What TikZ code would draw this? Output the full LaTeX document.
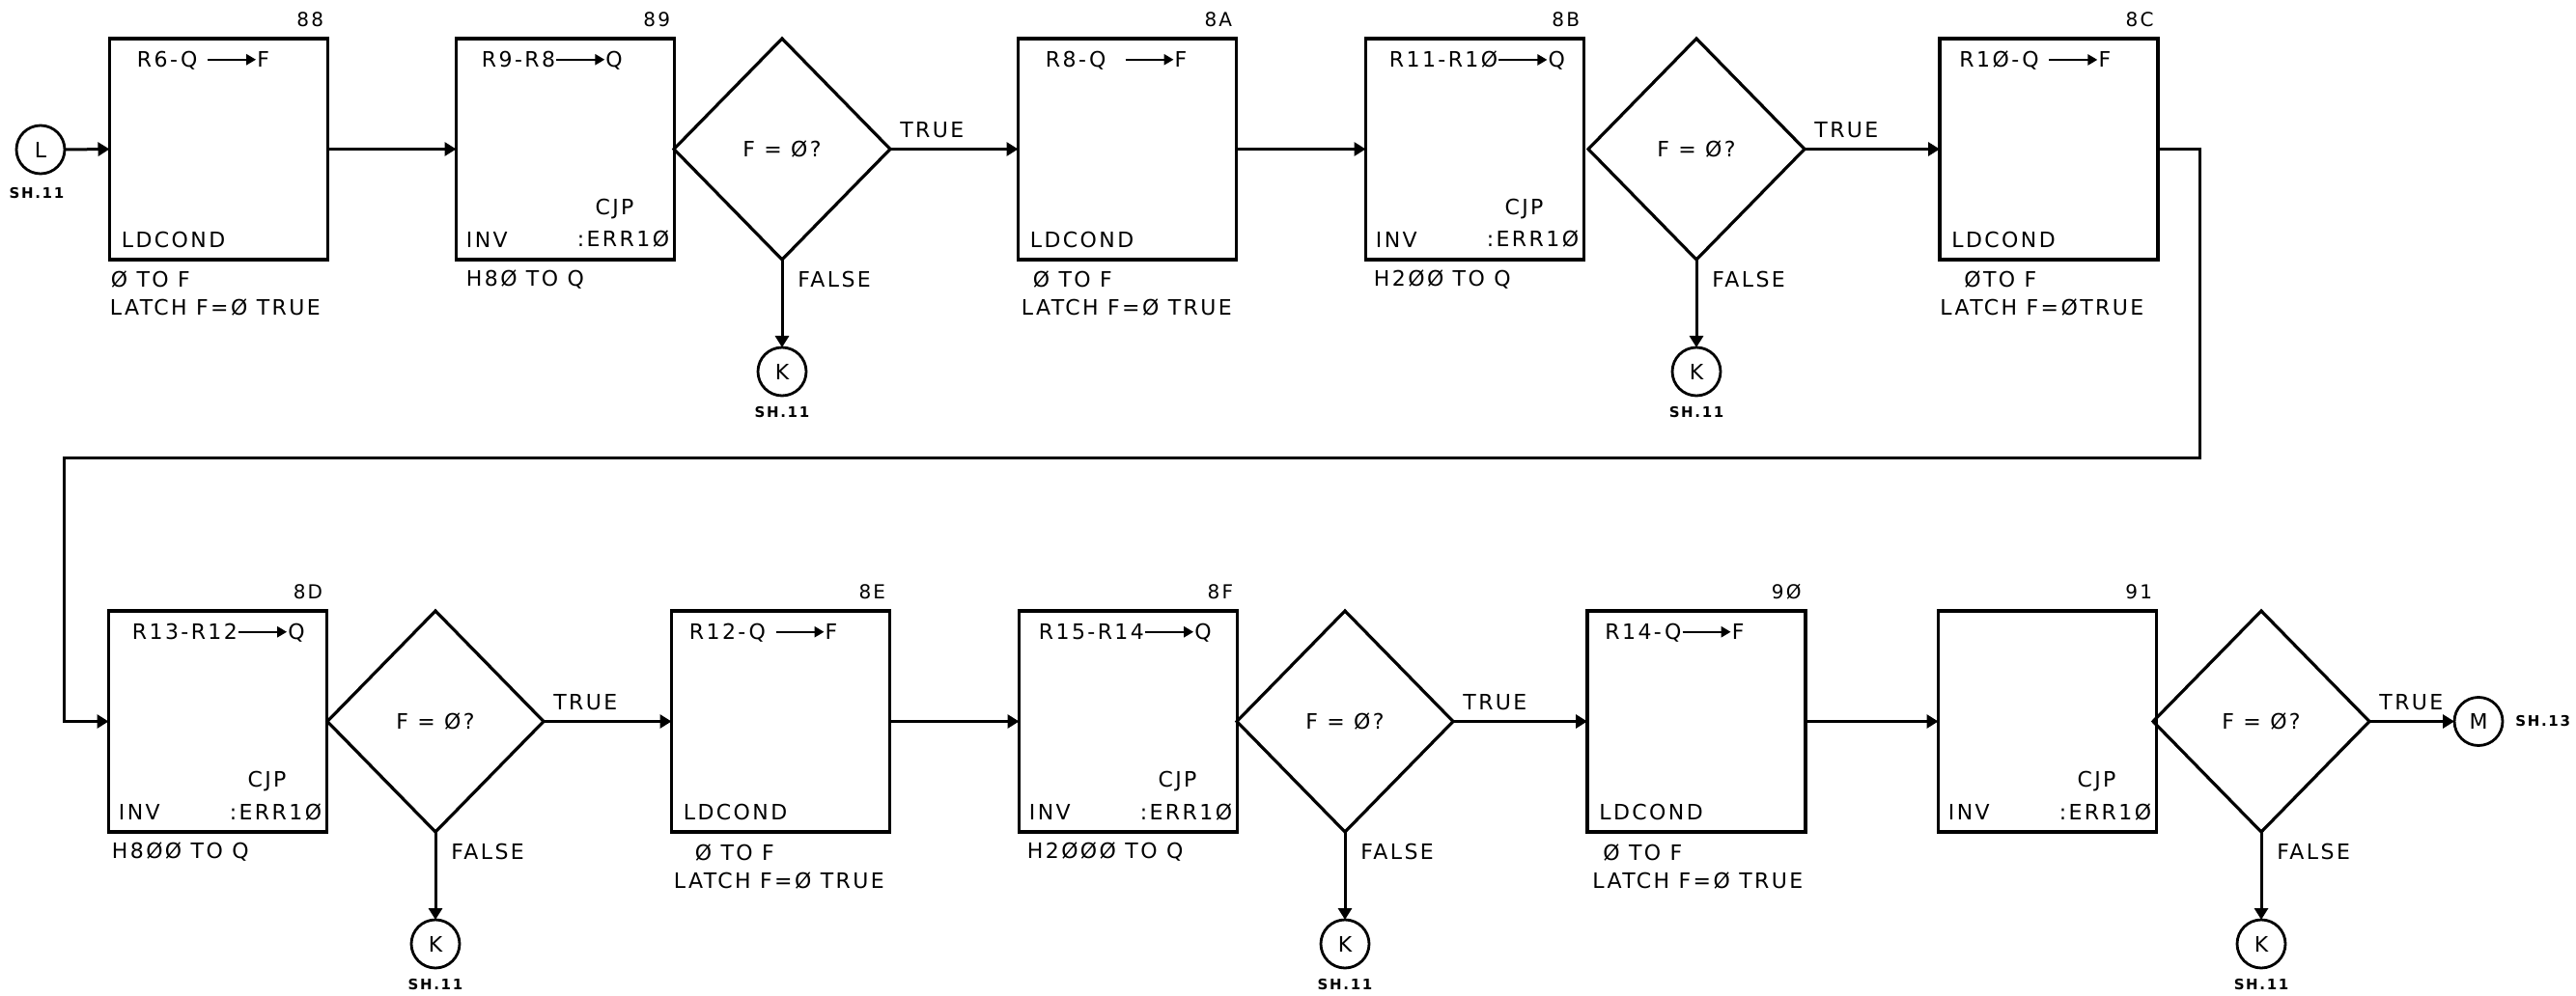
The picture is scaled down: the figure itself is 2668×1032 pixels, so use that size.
\documentclass[tikz,border=0pt]{standalone}
\usepackage{fontspec}
\setmainfont{DejaVu Sans}[LetterSpace=11]
\usetikzlibrary{shapes.geometric,arrows.meta,calc}
\newcommand{\mytxt}{\fontsize{11pt}{12pt}\selectfont}
\newcommand{\numtxt}{\fontsize{10pt}{11pt}\selectfont}
\newcommand{\smtxt}{\fontsize{7.5pt}{8pt}\selectfont\bfseries}
\newcommand{\tarr}{\tikz[baseline=-4pt]\draw[line width=1.2pt,-{Triangle[length=5pt,width=5.5pt]}] (0pt,0pt) -- (25pt,0pt);}
% box with number and top text: name, center, number, top text, x offset
\newcommand{\mkbox}[5]{%
  \node[blk] (#1) at (#2) {};
  \node[num,anchor=east] (#1-n) at ($(#1.north east)+(-4,-20)$) {#3};
  \node[txt,anchor=west] (#1-t) at ($(#1.north west)+(#5,23)$) {#4};}
% LDCOND box texts: name, x-off line1, text1, x-off line2, text2
\newcommand{\mkldc}[5]{%
  \node[txt,anchor=west] (#1-c) at ($(#1.south west)+(12,-21)$) {LDCOND};
  \node[txt,anchor=west] (#1-u) at ($(#1.south west)+(#2,21)$) {#3};
  \node[txt,anchor=west] (#1-v) at ($(#1.south west)+(#4,50)$) {#5};}
% INV / CJP box texts: name, x-off, text
\newcommand{\mkinv}[3]{%
  \node[txt,anchor=west] (#1-i) at ($(#1.south west)+(10,-21)$) {INV};
  \node[txt,anchor=east] (#1-e) at ($(#1.south east)+(-5,-21)$) {:ERR1Ø};
  \node[txt] (#1-j) at ($(#1.south east)+(-62,-52)$) {CJP};
  \node[txt,anchor=west] (#1-u) at ($(#1.south west)+(#2,21)$) {#3};}
% decision: name, center
\newcommand{\mkdecis}[2]{%
  \node[dia] (#1) at (#2) {F = Ø?};
  \node[circ] (#1k) at ($(#1.south)+(0,116)$) {K};
  \node[sm] (#1s) at ($(#1k.center)+(0,42)$) {SH.11};
  \draw[arr] (#1.south) -- (#1k.north);
  \node[txt,anchor=west] (#1f) at ($(#1.south)+(16,20)$) {FALSE};
  \node[txt,anchor=west] (#1r) at ($(#1.east)+(10,-20)$) {TRUE};}
\begin{document}
\begin{tikzpicture}[x=0.5pt,y=-0.5pt,
  blk/.style={draw,rectangle,line width=1.6pt,minimum width=113pt,minimum height=114.5pt,inner sep=0pt,outer sep=0pt},
  dia/.style={draw,diamond,line width=1.6pt,minimum width=112pt,minimum height=114.5pt,inner sep=0pt,outer sep=0pt,font=\mytxt},
  circ/.style={draw,circle,line width=1.4pt,minimum size=25pt,inner sep=0pt,outer sep=0pt,font=\mytxt},
  txt/.style={font=\mytxt,inner sep=0pt},
  num/.style={font=\numtxt,inner sep=0pt},
  sm/.style={font=\smtxt,inner sep=0pt},
  arr/.style={line width=1.5pt,-{Triangle[length=6pt,width=7pt]}}]
\fill[white] (0,0) rectangle (2668,1032);
\useasboundingbox (0,0) rectangle (2668,1032);

% ---------- row 1 ----------
\node[circ] (L) at (42,155) {L};
\node[sm] (Ls) at (38,200) {SH.11};

\mkbox{b88}{226.5,154.5}{88}{R6-Q \tarr F}{28}
\mkldc{b88}{1}{Ø TO F}{0}{LATCH F=Ø TRUE}

\mkbox{b89}{585.5,154.5}{89}{R9-R8\tarr Q}{26}
\mkinv{b89}{10}{H8Ø TO Q}

\mkdecis{d1}{810,154.5}

\mkbox{bBA}{1167.5,154.5}{8A}{R8-Q \ \tarr F}{28}
\mkldc{bBA}{15}{Ø TO F}{3}{LATCH F=Ø TRUE}

\mkbox{bBB}{1527.5,154.5}{8B}{R11-R1Ø\tarr Q}{24}
\mkinv{bBB}{8}{H2ØØ TO Q}

\mkdecis{d2}{1757,154.5}

\mkbox{bBC}{2122,154.5}{8C}{R1Ø-Q \tarr F}{20}
\mkldc{bBC}{25}{ØTO F}{0}{LATCH F=ØTRUE}

% ---------- row 2 ----------
\mkbox{b8D}{225.5,747.5}{8D}{R13-R12\tarr Q}{24}
\mkinv{b8D}{3}{H8ØØ TO Q}

\mkdecis{d3}{451,747.5}

\mkbox{b8E}{808.5,747.5}{8E}{R12-Q \tarr F}{18}
\mkldc{b8E}{24}{Ø TO F}{2}{LATCH F=Ø TRUE}

\mkbox{b8F}{1168.5,747.5}{8F}{R15-R14\tarr Q}{20}
\mkinv{b8F}{8}{H2ØØØ TO Q}

\mkdecis{d4}{1393,747.5}

\mkbox{b90}{1757,747.5}{9Ø}{R14-Q\tarr F}{18}
\mkldc{b90}{16}{Ø TO F}{5}{LATCH F=Ø TRUE}

\node[blk] (b91) at (2120.5,747.5) {};
\node[num,anchor=east] (b91-n) at ($(b91.north east)+(-4,-20)$) {91};
\mkinv{b91}{8}{}

\mkdecis{d5}{2342,747.5}

\node[circ] (M) at (2567,747.5) {M};
\node[sm,anchor=west] (Ms) at (2605,747.5) {SH.13};

% ---------- connectors ----------
\draw[arr] (L.east) -- (b88.west);
\draw[arr] (b88.east) -- (b89.west);
\draw[arr] (d1.east) -- (bBA.west);
\draw[arr] (bBA.east) -- (bBB.west);
\draw[arr] (d2.east) -- (bBC.west);
\coordinate (c1) at (2278,474);
\coordinate (c2) at (66,474);
\draw[arr] (bBC.east) -| (c1) -- (c2) |- (b8D.west);
\draw[arr] (d3.east) -- (b8E.west);
\draw[arr] (b8E.east) -- (b8F.west);
\draw[arr] (d4.east) -- (b90.west);
\draw[arr] (b90.east) -- (b91.west);
\draw[arr] (d5.east) -- (M.west);
\end{tikzpicture}
\end{document}
